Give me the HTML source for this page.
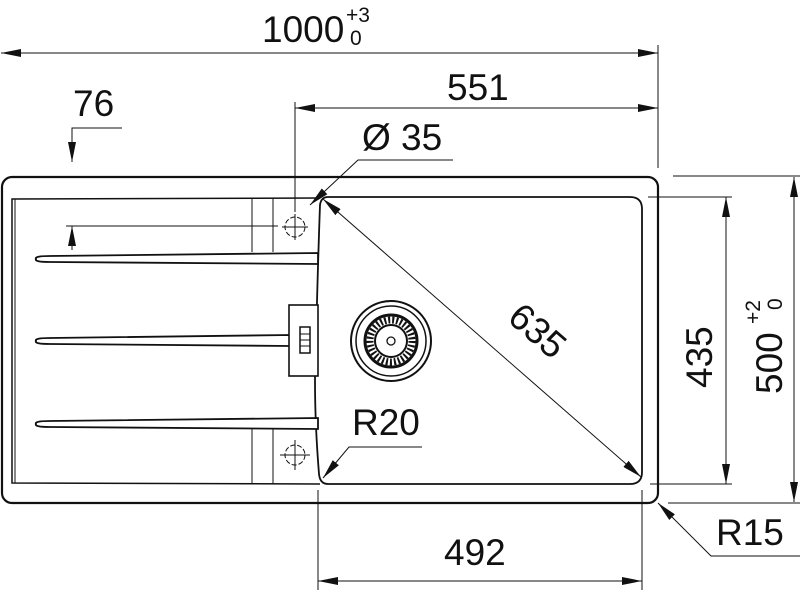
<!DOCTYPE html>
<html><head><meta charset="utf-8"><style>html,body{margin:0;padding:0;background:#fff}svg{display:block}</style></head>
<body>
<svg width="800" height="595" viewBox="0 0 800 595" xmlns="http://www.w3.org/2000/svg" font-family="Liberation Sans, sans-serif" fill="none" stroke="#111">
<defs>
<marker id="a" viewBox="0 0 20 8" refX="20" refY="4" markerWidth="20" markerHeight="8" markerUnits="userSpaceOnUse" orient="auto-start-reverse"><path d="M0,0 L20,4 L0,8 Z" fill="#111" stroke="none"/></marker>
</defs>
<rect x="2" y="177" width="656" height="326" rx="10" stroke-width="2.2"/>
<path d="M320,198 L12,199 L12,483 L320,484" stroke-width="1.5"/>
<line x1="15" y1="199" x2="15" y2="483" stroke-width="1"/>
<path d="M328,197 L630,197 Q642,197 642,209 L642,472 Q642,484 630,484 L328,484 Q320,484 319,474 Q313,400 316,340 Q318,260 320,205 Q321,197 328,197 Z" stroke-width="1.8"/>
<line x1="252" y1="198" x2="252" y2="252" stroke-width="1"/>
<line x1="273" y1="198" x2="273" y2="252" stroke-width="1"/>
<line x1="252" y1="428" x2="252" y2="484" stroke-width="1"/>
<line x1="273" y1="428" x2="273" y2="484" stroke-width="1"/>
<g fill="#fff" stroke-width="1.8">
<path d="M36,259 Q34,256 50,256 L318,253 L318,264 L50,262 Q34,262 36,259 Z"/>
<path d="M36,341 Q34,338 50,338 L290,335 L290,346 L50,344 Q34,344 36,341 Z"/>
<path d="M36,424 Q34,421 50,421 L318,418 L318,429 L50,427 Q34,427 36,424 Z"/>
</g>
<rect x="289" y="305" width="29" height="71" stroke-width="1.6" fill="#fff"/>
<rect x="300" y="327" width="10" height="26" stroke-width="1.5"/>
<line x1="300" y1="334" x2="310" y2="334" stroke-width="1"/><line x1="300" y1="340" x2="310" y2="340" stroke-width="1"/><line x1="300" y1="346" x2="310" y2="346" stroke-width="1"/>
<g stroke-width="1">
<circle cx="295" cy="227" r="10" stroke-dasharray="5 2"/>
<line x1="282" y1="227" x2="308" y2="227"/><line x1="295" y1="214" x2="295" y2="240"/>
<circle cx="295" cy="455" r="10" stroke-dasharray="5 2"/>
<line x1="280" y1="455" x2="310" y2="455"/><line x1="295" y1="440" x2="295" y2="470"/>
</g>
<g>
<circle cx="391" cy="341" r="40" stroke-width="2"/>
<circle cx="391" cy="341" r="35" stroke-width="1.5"/>
<circle cx="391" cy="341" r="26" stroke-width="3"/>
<circle cx="391" cy="341" r="21" stroke-width="7" stroke-dasharray="2 2"/>
<circle cx="391" cy="341" r="16" stroke-width="2"/>
<circle cx="391" cy="341" r="4" stroke-width="1.3"/>
</g>
<g stroke-width="1">
<line x1="658" y1="45" x2="658" y2="168"/>
<line x1="1" y1="53" x2="658" y2="53" marker-start="url(#a)" marker-end="url(#a)"/>
<line x1="295" y1="102" x2="295" y2="212"/>
<line x1="295" y1="108" x2="658" y2="108" marker-start="url(#a)" marker-end="url(#a)"/>
<polyline points="122,128 72,128 72,162" marker-end="url(#a)"/>
<line x1="66" y1="226" x2="278" y2="226"/>
<line x1="72" y1="226" x2="72" y2="250" marker-start="url(#a)"/>
<polyline points="453,160 358,160 310,205" marker-end="url(#a)"/>
<line x1="323" y1="199" x2="641" y2="477" marker-start="url(#a)" marker-end="url(#a)"/>
<polyline points="422,447 349,447 323,478" marker-end="url(#a)"/>
<line x1="648" y1="197" x2="732" y2="197"/>
<line x1="650" y1="484" x2="732" y2="484"/>
<line x1="726" y1="197" x2="726" y2="484" marker-start="url(#a)" marker-end="url(#a)"/>
<line x1="673" y1="176" x2="800" y2="176"/>
<line x1="668" y1="503" x2="800" y2="503"/>
<line x1="794" y1="177" x2="794" y2="502" marker-start="url(#a)" marker-end="url(#a)"/>
<polyline points="800,556 711,556 658,503" marker-end="url(#a)"/>
<line x1="318" y1="490" x2="318" y2="590"/>
<line x1="642" y1="490" x2="642" y2="590"/>
<line x1="318" y1="581" x2="642" y2="581" marker-start="url(#a)" marker-end="url(#a)"/>
</g>
<g fill="#111" stroke="none" font-size="37">
<text x="262" y="42">1000</text>
<text x="346" y="22" font-size="21">+3</text>
<text x="350" y="45" font-size="21">0</text>
<text x="447" y="100">551</text>
<text x="73" y="116">76</text>
<text x="362" y="150">Ø 35</text>
<text x="352" y="435">R20</text>
<text x="716" y="545">R15</text>
<text x="444" y="565">492</text>
<text transform="translate(506,320) rotate(41)">635</text>
<text transform="translate(712,388) rotate(-90)">435</text>
<text transform="translate(782,394) rotate(-90)">500</text>
<text transform="translate(760,324) rotate(-90)" font-size="21">+2</text>
<text transform="translate(782,310) rotate(-90)" font-size="21">0</text>
</g>
</svg>
</body></html>
